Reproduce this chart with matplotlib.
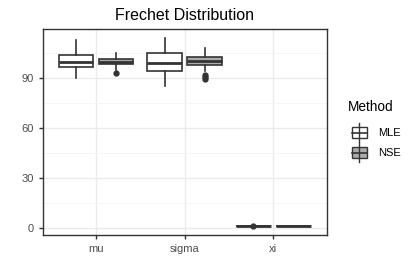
import matplotlib
matplotlib.use("Agg")
import matplotlib.pyplot as plt
from matplotlib.patches import Rectangle
from matplotlib.lines import Line2D

plt.rcParams['font.family'] = ['Liberation Sans', 'DejaVu Sans']

params = ['mu', 'sigma', 'xi']
methods = ['MLE', 'NSE']
fills = ['white', '#ABABAB']

# box stats: whislo, q1, med, q3, whishi, outliers
mle_whislo = [90.2, 85.4, 0.9]
mle_q1 = [96.4, 94.4, 0.95]
mle_med = [99.8, 99.2, 1.0]
mle_q3 = [103.8, 104.8, 1.05]
mle_whishi = [112.8, 113.8, 1.1]
mle_fliers = [[], [], [1.2]]

nse_whislo = [94.8, 94.4, 0.9]
nse_q1 = [98.2, 97.8, 0.95]
nse_med = [99.8, 100.2, 1.0]
nse_q3 = [101.4, 102.4, 1.05]
nse_whishi = [104.8, 107.8, 1.1]
nse_fliers = [[93.2], [91.8, 90.6, 89.2], []]

fig = plt.figure(figsize=(4.15, 2.77), dpi=100)
ax = fig.add_axes([0.103, 0.152, 0.684, 0.742])

def stats(lo, q1, med, q3, hi, fl):
    return [dict(whislo=a, q1=b, med=c, q3=d, whishi=e, fliers=f)
            for a, b, c, d, e, f in zip(lo, q1, med, q3, hi, fl)]

groups = [stats(mle_whislo, mle_q1, mle_med, mle_q3, mle_whishi, mle_fliers),
          stats(nse_whislo, nse_q1, nse_med, nse_q3, nse_whishi, nse_fliers)]

dark = '#333333'
for k, (st, fc) in enumerate(zip(groups, fills)):
    pos = [i + 1 + (k - 0.5) * 0.45 for i in range(len(params))]
    ax.bxp(st, positions=pos, widths=0.39, patch_artist=True,
           showcaps=False,
           boxprops=dict(facecolor=fc, edgecolor=dark, linewidth=1.2),
           medianprops=dict(color=dark, linewidth=2.0),
           whiskerprops=dict(color=dark, linewidth=1.2),
           flierprops=dict(marker='o', markerfacecolor=dark, markeredgecolor=dark,
                           markersize=3.5),
           zorder=3)

ax.set_xlim(0.4, 3.6)
ax.set_ylim(-4.2, 119.2)
ax.set_xticks([1, 2, 3])
ax.set_xticklabels(params)
ax.set_yticks([0, 30, 60, 90])
ax.set_yticks([15, 45, 75, 105], minor=True)
ax.grid(True, which='major', color='#EBEBEB', linewidth=1.0, zorder=0)
ax.grid(True, which='minor', axis='y', color='#F4F4F4', linewidth=0.6, zorder=0)
ax.set_axisbelow(True)
for s in ax.spines.values():
    s.set_color('#333333')
    s.set_linewidth(1.0)
ax.tick_params(axis='both', which='major', colors='#333333', labelcolor='#4D4D4D',
               labelsize=8, length=3, width=1)
ax.tick_params(axis='both', which='minor', length=0)

ax.set_title('Frechet Distribution', fontsize=11.5, color='black', pad=7)

# legend drawn by hand, ggplot style keys
fig.text(347.7 / 415, 1 - 107 / 277, 'Method', fontsize=9.8, va='center', ha='left')
key_y = [132.7, 152.7]
for fc, name, yc in zip(fills, methods, key_y):
    x0, x1 = 351.7, 366.7
    xm = (x0 + x1) / 2
    fig.add_artist(Line2D([xm / 415] * 2, [1 - (yc - 9.5) / 277, 1 - (yc + 9.5) / 277],
                          color=dark, linewidth=1.0, transform=fig.transFigure))
    fig.add_artist(Rectangle((x0 / 415, 1 - (yc + 5.3) / 277), (x1 - x0) / 415, 10.6 / 277,
                             facecolor=fc, edgecolor=dark, linewidth=1.0,
                             transform=fig.transFigure))
    fig.add_artist(Line2D([x0 / 415, x1 / 415], [1 - yc / 277] * 2,
                          color=dark, linewidth=1.2, transform=fig.transFigure))
    fig.text(377.7 / 415, 1 - yc / 277, name, fontsize=8, va='center', ha='left')

fig.savefig('out.png', dpi=100)
